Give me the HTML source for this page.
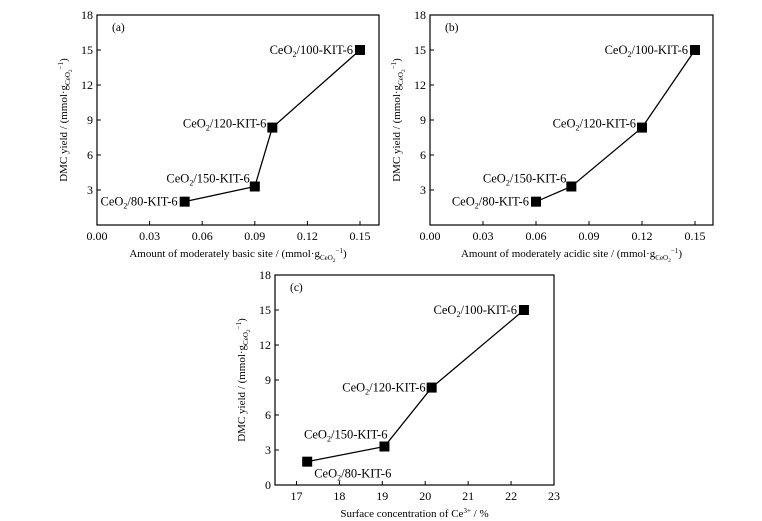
<!DOCTYPE html>
<html><head><meta charset="utf-8"><style>
html,body{margin:0;padding:0;background:#fff}
svg{display:block;font-family:"Liberation Serif",serif}
</style></head><body>
<svg id="fig" width="762" height="521" viewBox="0 0 762 521"></svg>
<script>
const labels = ["CeO2/80-KIT-6","CeO2/150-KIT-6","CeO2/120-KIT-6","CeO2/100-KIT-6"];
const yieldVals = [2.0, 3.3, 8.35, 15.0];
const basicSite = [0.05, 0.09, 0.10, 0.15];
const acidicSite = [0.06, 0.08, 0.12, 0.15];
const ce3Conc = [17.25, 19.05, 20.15, 22.3];
const xTicksAB = ["0.00","0.03","0.06","0.09","0.12","0.15"];
const xTicksC = ["17","18","19","20","21","22","23"];
const yTicksAB = ["3","6","9","12","15","18"];
const yTicksC = ["0","3","6","9","12","15","18"];

const NS="http://www.w3.org/2000/svg";
const svg=document.getElementById('fig');
function mk(tag,attrs,parent,text){const e=document.createElementNS(NS,tag);for(const k in attrs)e.setAttribute(k,attrs[k]);if(text!==undefined)e.textContent=text;(parent||svg).appendChild(e);return e;}

function panel(o){
  const g=mk('g',{});
  
  
  const X=v=>o.x0+(v-o.xmin)/(o.xmax-o.xmin)*(o.x1-o.x0);
  const Y=v=>o.y1-(v-0)/18*(o.y1-o.y0);
  const box=mk('rect',{x:o.x0,y:o.y0,width:o.x1-o.x0,height:o.y1-o.y0,fill:'none',stroke:'#000','stroke-width':1.2},g);
  
  
  o.xt.forEach(t=>{const v=parseFloat(t),x=X(v);
    mk('line',{x1:x,x2:x,y1:o.y1,y2:o.y1-4,stroke:'#000'},g);
    const tx=mk('text',{x:x,y:o.y1+15,'font-size':12,'text-anchor':'middle'},g,t);
    
    
  });
  o.yt.forEach(t=>{const v=parseFloat(t),y=Y(v);
    mk('line',{x1:o.x0,x2:o.x0+4,y1:y,y2:y,stroke:'#000'},g);
    const ty=mk('text',{x:o.x0-4,y:y+4,'font-size':12,'text-anchor':'end'},g,t);
    
    
  });
  const pl=mk('text',{x:o.x0+15,y:o.y0+16,'font-size':11.5},g,'('+o.id+')');
  
  
  const xt=mk('text',{x:(o.x0+o.x1)/2,y:o.y1+32,'font-size':11,'text-anchor':'middle'},g);
  
  
  if(o.id==='c'){xt.textContent='Surface concentration of Ce';mk('tspan',{dy:-4,'font-size':7},xt,'3+');mk('tspan',{dy:4},xt,' / %');}
  else{xt.textContent=o.xtitle+' / (mmol\u00B7g';mk('tspan',{dy:3,'font-size':7},xt,'CeO');mk('tspan',{dy:2,'font-size':5.5},xt,'2');mk('tspan',{dy:-9,'font-size':7},xt,'\u22121');mk('tspan',{dy:4},xt,')');}
  const cy=(o.y0+o.y1)/2, cx=o.x0-30;
  const yt=mk('text',{x:cx,y:cy,'font-size':11,'text-anchor':'middle',transform:`rotate(-90 ${cx} ${cy})`},g,'DMC yield / (mmol\u00B7g');
  
  
  mk('tspan',{dy:3,'font-size':7},yt,'CeO');mk('tspan',{dy:2,'font-size':5.5},yt,'2');mk('tspan',{dy:-9,'font-size':7},yt,'\u22121');mk('tspan',{dy:4},yt,')');
  const pts=o.xs.map((v,i)=>X(v)+','+Y(yieldVals[i])).join(' ');
  const ln=mk('polyline',{points:pts,fill:'none',stroke:'#000','stroke-width':1.3},g);
  
  
  o.xs.forEach((v,i)=>{const x=X(v),y=Y(yieldVals[i]);
    const m=mk('rect',{x:x-5,y:y-5,width:10,height:10,fill:'#000'},g);
    
    
    const off=o.lab[i];
    const t=mk('text',{x:x+off[0],y:y+off[1],'font-size':12.5,'text-anchor':off[2]},g,'CeO');
    
    
    mk('tspan',{dy:3,'font-size':8},t,'2');
    mk('tspan',{dy:-3},t,labels[i].slice(4));
  });
}
const endLab=[[-7,4,'end'],[-5,-4,'end'],[-6,0,'end'],[-7,4,'end']];
panel({id:'a',x0:97,x1:379,y0:15,y1:225,xmin:0,xmax:0.15*282/263,xs:basicSite,xt:xTicksAB,yt:yTicksAB,xtitle:'Amount of moderately basic site',lab:endLab});
panel({id:'b',x0:430,x1:713,y0:15,y1:225,xmin:0,xmax:0.15*283/265,xs:acidicSite,xt:xTicksAB,yt:yTicksAB,xtitle:'Amount of moderately acidic site',lab:endLab});
panel({id:'c',x0:275,x1:554,y0:275,y1:485,xmin:16.5,xmax:23,xs:ce3Conc,xt:xTicksC,yt:yTicksC,lab:[[7,16,'start'],[3,-8,'end'],[-6,4,'end'],[-7,4,'end']]});
</script>
</body></html>
